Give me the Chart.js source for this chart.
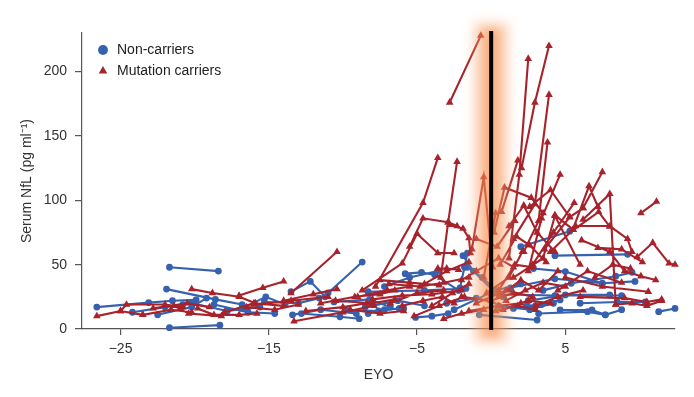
<!DOCTYPE html>
<html>
<head>
<meta charset="utf-8">
<script src="https://cdn.jsdelivr.net/npm/chart.js@4"></script>
<style>
  body { margin: 0; background: #fff; }
  #wrap { width: 694px; height: 397px; }
</style>
</head>
<body>
<div id="wrap"><canvas id="nflChart" width="694" height="397"></canvas></div>
<script>
// each subject is a list of [EYO, serum NfL] visits
const nonCarriers = [
  [[-26.6, 17], [-23.1, 20.5], [-21.5, 22], [-19.9, 22.6]],
  [[-21.7, 48], [-18.4, 45]],
  [[-21.7, 1], [-18.3, 3]],
  [[-21.9, 31], [-18.6, 23], [-16.8, 19]],
  [[-22.5, 11], [-20.2, 17], [-19.2, 24]],
  [[-20.2, 20], [-17.8, 14], [-15.6, 17]],
  [[-18.7, 19], [-16.4, 13], [-14.6, 12]],
  [[-16.8, 16], [-15.2, 25], [-13.9, 19]],
  [[-13.5, 29], [-12.2, 37], [-11.2, 25]],
  [[-12.8, 12], [-10.2, 9.5], [-8.9, 8]],
  [[-11, 28], [-8.7, 52]],
  [[-13.4, 11], [-11.5, 15], [-9.1, 12]],
  [[-10.6, 21], [-8.2, 23], [-6.8, 17]],
  [[-5.1, 9], [-4, 10], [-2.9, 12]],
  [[-5.8, 43], [-4.7, 44], [-3.8, 42], [-2.2, 30]],
  [[-7.2, 33], [-5.5, 40], [-3.6, 45]],
  [[-1.9, 57], [-1.2, 45], [0.3, 28]],
  [[-0.8, 11], [3.1, 7]],
  [[-3, 20], [-1, 24], [1.5, 16], [3, 18]],
  [[2, 64], [5.3, 76]],
  [[1.3, 32], [4.3, 39], [7.5, 35.5], [9.7, 37]],
  [[4.3, 57], [9.2, 58]],
  [[3.5, 30], [5.4, 35.5], [8.4, 41], [9.5, 44]],
  [[2.5, 22], [5, 26.5], [8, 26.5]],
  [[3.2, 12], [6.5, 13.5], [7.7, 11], [8.8, 15]],
  [[11.3, 13.5], [12.4, 16]],
  [[0.5, 18], [2.6, 15], [4.2, 20]],
  [[-8.5, 17], [-6.3, 22], [-4.5, 18]],
  [[-24.2, 13], [-22, 17], [-20.8, 19]],
  [[-15.3, 21], [-13, 20], [-11.6, 24]],
  [[-2.5, 15], [0.3, 30], [2, 35]],
  [[6, 20], [8.5, 21], [10.4, 21]],
  [[-9.8, 15], [-7.6, 14], [-6.2, 16]],
  [[-1.6, 48], [-0.6, 40], [0.8, 25]],
  [[-8.3, 12], [-7.2, 15], [-5.9, 16]],
  [[-8.3, 29], [-4.5, 30], [-1.7, 31.5]],
  [[-2.1, 32], [-1.8, 48], [-1.6, 59]],
  [[0, 27], [4.3, 26], [8.8, 26]],
  [[2.4, 18], [3.4, 19], [4.65, 22.6]],
  [[2.85, 47], [5, 44.6], [7.5, 35.5]],
  [[4.65, 14.8], [6.8, 14.8], [7.7, 11]]
];

const mutationCarriers = [
  [[-26.6, 10], [-25, 14], [-23.5, 11]],
  [[-25, 14], [-24.6, 19], [-22, 19], [-20.8, 17]],
  [[-23.5, 11], [-21.6, 15], [-20.2, 13]],
  [[-20.2, 31], [-18.8, 28], [-17, 25], [-15.9, 20]],
  [[-19.8, 16], [-18.7, 11], [-17, 11], [-15.8, 12]],
  [[-17, 26], [-15.4, 32], [-14, 37]],
  [[-21.4, 18], [-20.4, 12], [-18.2, 10]],
  [[-16.5, 17], [-14.6, 15], [-13, 19]],
  [[-13.3, 6], [-10, 13], [-7.9, 18]],
  [[-14, 22], [-12, 27], [-10.4, 31]],
  [[-13.5, 28], [-10.4, 60]],
  [[-12.5, 14], [-10, 17], [-8.4, 20]],
  [[-11.5, 20], [-9.2, 25], [-7.5, 27], [-6.5, 30]],
  [[-9.5, 15], [-7.5, 12], [-5.9, 14]],
  [[-3.2, 8], [-2, 12], [-0.5, 15]],
  [[-6, 18], [-4.6, 22], [-3.3, 25], [-2.5, 20]],
  [[-2.8, 176], [-0.7, 228]],
  [[-7.8, 33], [-4.6, 98], [-3.6, 133]],
  [[-5.5, 64], [-4.6, 86], [-2.9, 83], [-2.3, 80]],
  [[-3.4, 40], [-2.9, 83], [-2.3, 130]],
  [[-1.3, 62], [-0.5, 118], [0.1, 48]],
  [[-8.7, 30], [-6, 51], [-5, 74], [-3.6, 59], [-2.5, 59]],
  [[-4.5, 35], [-3, 45], [-1.5, 52]],
  [[-0.5, 40], [0.3, 90], [0.7, 91], [1.8, 131]],
  [[1.2, 55], [1.9, 120], [2.5, 210]],
  [[2.05, 125], [2.95, 176], [3.9, 220]],
  [[1.5, 70], [2.95, 97], [3.9, 182]],
  [[2.2, 60], [3.2, 84], [3.8, 145]],
  [[2.5, 45], [3.4, 86], [4.65, 120]],
  [[0.2, 75], [0.9, 110], [2.7, 102], [3.5, 90]],
  [[3.6, 62], [5.3, 87], [6.2, 94], [7.5, 122]],
  [[4, 60], [5.5, 77], [6.6, 111], [7.2, 95]],
  [[6.2, 85], [8, 105], [8.4, 19]],
  [[8.4, 19], [9.5, 20], [10.5, 18], [11.5, 22]],
  [[10.1, 90], [11.15, 99]],
  [[9.85, 56], [10.9, 67], [12, 51], [12.4, 50]],
  [[5.7, 80], [8, 80], [9.2, 70], [9.5, 60]],
  [[6.1, 69], [8, 60], [9, 45], [10.1, 41], [11.1, 38]],
  [[5, 40], [7.5, 33], [10.6, 29]],
  [[6, 25], [9, 24], [10.5, 21], [11.5, 23]],
  [[1.5, 40], [3.5, 55], [4.3, 88], [6, 50]],
  [[0.5, 25], [2, 38], [3.2, 30], [4.5, 45]],
  [[-1, 20], [1, 30], [2.8, 25]],
  [[4.5, 30], [6.5, 45], [8.8, 36]],
  [[-0.3, 28], [1.2, 40], [2.1, 60]],
  [[-2, 25], [0, 22], [1.5, 28]],
  [[0.8, 15], [2.5, 22], [4, 20]],
  [[2.8, 50], [4.2, 75], [5.6, 98]],
  [[-4, 18], [-2.6, 28], [-1.5, 35]],
  [[-6.8, 20], [-5, 28], [-3.2, 30]],
  [[-9, 25], [-7, 30], [-5.5, 33]],
  [[-16, 19], [-13.5, 22], [-11, 25]],
  [[-22.8, 16], [-20.5, 20], [-19, 17]],
  [[-18, 13], [-16, 20], [-14, 18]],
  [[-5.2, 10], [-3.5, 18], [-1.8, 25]],
  [[7.2, 63], [8.8, 62], [10.2, 52]],
  [[-7.5, 38], [-5.5, 36], [-3.5, 34]],
  [[-6.9, 35], [-4.8, 33], [-3.2, 36], [-1.5, 40]],
  [[-3.6, 47], [-3, 47], [-2.2, 46]],
  [[-2.8, 81], [-1.9, 78], [-1.5, 70.6], [-1.4, 59]],
  [[-8, 23], [-6, 26], [-4, 27], [-2, 30]],
  [[-10.5, 22], [-8, 20], [-6.5, 23]],
  [[-2, 38], [-1, 45], [0.5, 55], [1.5, 48]],
  [[0.5, 30], [1.6, 50], [2.8, 48]],
  [[1, 22], [2.3, 30], [3.5, 36], [5, 33]],
  [[3, 18], [4.5, 25], [6.2, 30]],
  [[0.3, 14], [1.8, 18], [3, 15]],
  [[-1.5, 14], [0.5, 18], [2, 20]],
  [[4.3, 88.5], [5.55, 77], [7.25, 91], [8, 79.6]],
  [[2.6, 95], [4, 108], [5.3, 87], [6.2, 94]],
  [[1.2, 80], [2.2, 96], [3.1, 75], [4.3, 60]],
  [[0.6, 50], [1.7, 72], [2.6, 65], [3.7, 52]],
  [[7, 40], [8.2, 50], [9.4, 47]],
  [[-1, 70], [0.4, 64], [1.6, 84]]
];

const xTicks = [-25, -15, -5, 5];
const yTicks = [0, 50, 100, 150, 200];
const onsetEYO = 0;

const blue = '#3561ae';
const red = '#a8222b';
const font = "'Liberation Sans', Arial, sans-serif";

// flatten subjects into one series, a null point breaks the line between subjects
function toSeries(subjects) {
  const pts = [];
  subjects.forEach(s => {
    s.forEach(p => pts.push({ x: p[0], y: p[1] }));
    pts.push({ x: null, y: null });
  });
  return pts;
}

const onsetLine = {
  id: 'onsetLine',
  afterLayout(chart) {
    // legend sits inside the plot, just under its top edge
    chart.legend.left = chart.chartArea.left + 7;
    chart.legend.top = chart.chartArea.top + 3;
  },
  afterDraw(chart) {
    const { ctx, chartArea, scales } = chart;
    const x = scales.x.getPixelForValue(onsetEYO);
    ctx.save();
    ctx.filter = 'blur(6px)';
    ctx.fillStyle = 'rgba(250,165,110,0.5)';
    ctx.fillRect(x - 17, chartArea.top - 10, 34, chartArea.bottom - chartArea.top + 24);
    ctx.filter = 'blur(4px)';
    ctx.fillStyle = 'rgba(240,110,40,0.35)';
    ctx.fillRect(x - 8, chartArea.top - 4, 16, chartArea.bottom - chartArea.top + 12);
    ctx.restore();
    ctx.save();
    ctx.strokeStyle = '#000';
    ctx.lineWidth = 4;
    ctx.beginPath();
    ctx.moveTo(x, chartArea.top - 2);
    ctx.lineTo(x, chartArea.bottom + 1);
    ctx.stroke();
    ctx.restore();
  }
};

const ctx = document.getElementById('nflChart').getContext('2d');
new Chart(ctx, {
  type: 'scatter',
  data: {
    datasets: [
      {
        label: 'Non-carriers',
        data: toSeries(nonCarriers),
        order: 2,
        showLine: true,
        spanGaps: false,
        borderColor: blue,
        backgroundColor: blue,
        borderWidth: 2.1,
        pointStyle: 'circle',
        pointRadius: 3.4,
        pointBorderWidth: 0,
        clip: false
      },
      {
        label: 'Mutation carriers',
        data: toSeries(mutationCarriers),
        order: 1,
        showLine: true,
        spanGaps: false,
        borderColor: red,
        backgroundColor: red,
        borderWidth: 2.1,
        pointStyle: 'triangle',
        pointRadius: 4.4,
        pointBorderWidth: 0,
        clip: false
      }
    ]
  },
  options: {
    responsive: false,
    animation: false,
    devicePixelRatio: 1,
    layout: { padding: { top: 33, right: 19, left: 0, bottom: 0 } },
    plugins: {
      tooltip: { enabled: false },
      legend: {
        position: 'chartArea',
        align: 'start',
        labels: {
          usePointStyle: true,
          boxHeight: 7,
          padding: 7,
          color: '#222',
          font: { family: font, size: 14 },
          sort: (a, b) => a.datasetIndex - b.datasetIndex
        }
      }
    },
    scales: {
      x: {
        type: 'linear',
        min: -27.6,
        max: 12.4,
        afterBuildTicks: s => { s.ticks = xTicks.map(v => ({ value: v })); },
        afterFit: s => { s.height = 68; },
        grid: { drawOnChartArea: false, drawTicks: true, tickLength: 6, color: '#555', lineWidth: 1.2 },
        border: { color: '#555', width: 1.2 },
        ticks: {
          color: '#333',
          padding: 6,
          font: { family: font, size: 14 },
          callback: v => (v < 0 ? '\u2212' + Math.abs(v) : String(v))
        },
        title: {
          display: true,
          text: 'EYO',
          color: '#333',
          padding: { top: 13, bottom: 13 },
          font: { family: font, size: 14 }
        }
      },
      y: {
        type: 'linear',
        min: 0,
        max: 230,
        afterBuildTicks: s => { s.ticks = yTicks.map(v => ({ value: v })); },
        afterFit: s => { s.width = 82; },
        grid: { drawOnChartArea: false, drawTicks: true, tickLength: 7, color: '#555', lineWidth: 1.2 },
        border: { color: '#555', width: 1.2 },
        ticks: {
          color: '#333',
          padding: 8,
          font: { family: font, size: 14 }
        },
        title: {
          display: true,
          text: 'Serum NfL (pg ml\u207B\u00B9)',
          color: '#333',
          padding: { top: 19, bottom: 19 },
          font: { family: font, size: 14 }
        }
      }
    }
  },
  plugins: [onsetLine]
});
</script>
</body>
</html>
